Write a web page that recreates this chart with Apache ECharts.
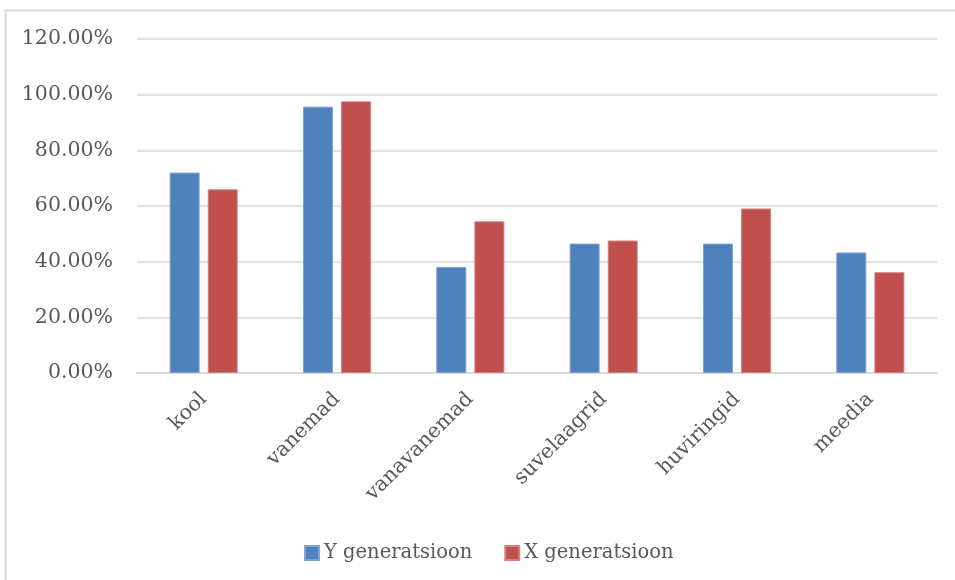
<!DOCTYPE html>
<html>
<head>
<meta charset="utf-8">
<script src="https://cdn.jsdelivr.net/npm/echarts@6/dist/echarts.min.js"></script>
<style>
  html, body { margin: 0; padding: 0; background: #fff; }
  #chart { width: 955px; height: 580px; }
</style>
</head>
<body>
<div id="chart"></div>
<script>
// Categories and shares (as fractions) for the two generations
const categories = ['kool', 'vanemad', 'vanavanemad', 'suvelaagrid', 'huviringid', 'meedia'];
const seriesNames = ['Y generatsioon', 'X generatsioon'];
const yGeneration = [0.72, 0.957, 0.381, 0.465, 0.465, 0.433];
const xGeneration = [0.66, 0.976, 0.545, 0.476, 0.591, 0.362];
const yTicks = { min: 0, max: 1.2, interval: 0.2 };

const FONT = '"DejaVu Serif", "Liberation Serif", serif';
const TEXT = '#595959';
const GRID = '#d9d9d9';

const chart = echarts.init(document.getElementById('chart'), null, { renderer: 'canvas' });

chart.setOption({
  animation: false,
  backgroundColor: '#ffffff',
  graphic: [{
    type: 'rect',
    shape: { x: 5.5, y: 10.5, width: 1000, height: 600 },
    style: { fill: 'none', stroke: GRID, lineWidth: 2 },
    silent: true,
    z: -10
  }],
  grid: { left: 137, right: 18, top: 39, bottom: 207 },
  legend: {
    left: 299,
    top: 538,
    itemWidth: 14,
    itemHeight: 14,
    itemGap: 32,
    icon: 'rect',
    textStyle: { fontFamily: FONT, fontSize: 19.5, color: TEXT },
    data: seriesNames
  },
  xAxis: {
    type: 'category',
    data: categories,
    axisLine: { lineStyle: { color: GRID, width: 2 } },
    axisTick: { show: false },
    axisLabel: {
      rotate: 45,
      margin: 23,
      interval: 0,
      fontFamily: FONT,
      fontSize: 20.5,
      color: TEXT
    }
  },
  yAxis: {
    type: 'value',
    min: yTicks.min,
    max: yTicks.max,
    interval: yTicks.interval,
    axisLine: { show: false },
    axisTick: { show: false },
    splitLine: { lineStyle: { color: GRID, width: 1.5 } },
    axisLabel: {
      margin: 24,
      fontFamily: FONT,
      fontSize: 20.5,
      color: TEXT,
      formatter: v => (v * 100).toFixed(2) + '%'
    }
  },
  series: [
    {
      name: seriesNames[0],
      type: 'bar',
      data: yGeneration,
      barWidth: 30,
      barGap: '27%',
      itemStyle: { color: '#4f81bd', borderColor: '#7ea3d2', borderWidth: 1 }
    },
    {
      name: seriesNames[1],
      type: 'bar',
      data: xGeneration,
      barWidth: 30,
      barGap: '27%',
      itemStyle: { color: '#c0504d', borderColor: '#d5817f', borderWidth: 1 }
    }
  ]
});
</script>
</body>
</html>
